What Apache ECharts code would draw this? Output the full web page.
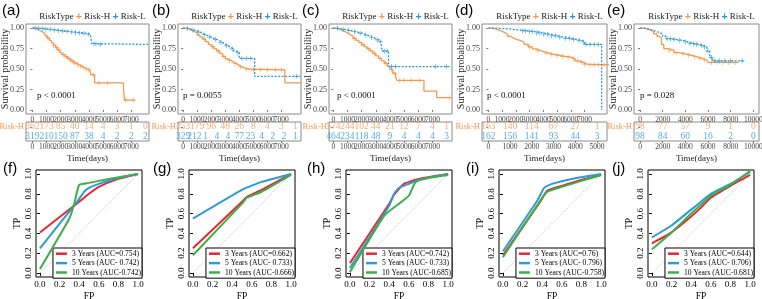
<!DOCTYPE html>
<html><head><meta charset="utf-8">
<script src="https://cdn.jsdelivr.net/npm/echarts@6/dist/echarts.min.js"></script>
<style>html,body{margin:0;padding:0;background:#fff}#c{width:762px;height:299px}</style>
</head><body><div id="c"></div>
<script>
// ---------------- tick labels ----------------
const ticks8000 = [0,1000,2000,3000,4000,5000,6000,7000,8000];
const ticks5000 = [0,1000,2000,3000,4000,5000];
const ticks10000 = [0,2000,4000,6000,8000,10000];
const survTicks = [0,0.25,0.5,0.75,1];
const rocTicks = [0,0.2,0.4,0.6,0.8,1];
const panelLabelsKM = ['(a)','(b)','(c)','(d)','(e)'];
const panelLabelsROC = ['(f)','(g)','(h)','(i)','(j)'];
const pValues = ['p < 0.0001','p = 0.0055','p < 0.0001','p < 0.0001','p = 0.028'];
const groups = ['Risk-H','Risk-L'];

// ---------------- KM curves [time, survival] ----------------
const kmA_H = [[0,1],[150,0.99],[300,0.98],[450,0.965],[600,0.95],[750,0.93],[900,0.905],[1050,0.88],[1200,0.85],[1350,0.82],[1500,0.79],[1650,0.76],[1800,0.73],[1950,0.7],[2100,0.675],[2300,0.65],[2500,0.625],[2700,0.6],[2900,0.575],[3100,0.555],[3300,0.535],[3500,0.515],[3700,0.5],[3900,0.49],[4050,0.475],[4150,0.43],[4400,0.33],[6450,0.25],[6520,0.12],[7250,0.12]];
const kmA_Hc = [[1100,0.88],[1500,0.79],[1700,0.76],[1900,0.73],[2200,0.675],[2400,0.65],[2600,0.625],[2800,0.6],[3000,0.575],[3200,0.555],[3400,0.535],[3600,0.515],[3800,0.5],[4000,0.49],[4300,0.43],[4700,0.33],[5300,0.33],[6600,0.12],[7150,0.12]];
const kmA_L = [[0,1],[300,0.997],[600,0.993],[900,0.988],[1200,0.982],[1500,0.976],[1800,0.97],[2100,0.964],[2400,0.958],[2700,0.952],[3000,0.946],[3300,0.94],[3600,0.933],[3900,0.925],[4100,0.905],[4200,0.81],[4600,0.8],[8250,0.8]];
const kmA_Lc = [[200,1],[450,0.997],[700,0.993],[950,0.988],[1250,0.982],[1550,0.976],[1850,0.97],[2150,0.964],[2450,0.958],[2750,0.952],[3050,0.946],[3350,0.94],[3650,0.933],[3950,0.925],[4350,0.81],[4500,0.81],[4800,0.8]];

const kmB_H = [[0,1],[200,0.99],[400,0.975],[600,0.96],[800,0.94],[1000,0.915],[1200,0.89],[1400,0.865],[1600,0.835],[1800,0.8],[2000,0.775],[2200,0.745],[2400,0.72],[2600,0.69],[2800,0.655],[3000,0.625],[3200,0.605],[3400,0.585],[3600,0.565],[3800,0.545],[4000,0.525],[4200,0.51],[4400,0.5],[4700,0.49],[7250,0.33],[8400,0.33]];
const kmB_Hc = [[1500,0.865],[2100,0.775],[2500,0.72],[2900,0.655],[3300,0.605],[3700,0.565],[4100,0.525],[4500,0.5],[5000,0.49],[5500,0.49],[6000,0.49],[6600,0.49],[7000,0.49]];
const kmB_L = [[0,1],[200,0.995],[400,0.985],[600,0.975],[800,0.965],[1000,0.95],[1200,0.935],[1400,0.92],[1600,0.905],[1800,0.89],[2000,0.875],[2200,0.86],[2400,0.845],[2600,0.825],[2800,0.805],[3000,0.785],[3200,0.765],[3400,0.745],[3600,0.72],[3800,0.7],[4000,0.63],[5100,0.41],[8350,0.41]];
const kmB_Lc = [[300,0.995],[700,0.975],[1100,0.95],[1500,0.92],[1900,0.89],[2300,0.86],[2700,0.825],[3100,0.785],[3500,0.745],[3900,0.7],[4200,0.63],[4500,0.63],[4800,0.63],[8100,0.41]];

const kmC_H = [[0,1],[200,0.99],[400,0.975],[600,0.96],[800,0.94],[1000,0.92],[1200,0.9],[1400,0.875],[1600,0.85],[1800,0.825],[2000,0.795],[2200,0.77],[2400,0.745],[2600,0.72],[2800,0.69],[3000,0.66],[3200,0.63],[3400,0.6],[3600,0.57],[3800,0.535],[4000,0.495],[4200,0.45],[4400,0.4],[4500,0.36],[6400,0.23],[7300,0.15],[8300,0.15]];
const kmC_Hc = [[1500,0.875],[2100,0.795],[2500,0.745],[2900,0.69],[3300,0.63],[3700,0.57],[4100,0.495],[4300,0.45],[4700,0.36],[5000,0.36],[5500,0.36],[6100,0.36],[8200,0.15]];
const kmC_L = [[0,1],[200,0.996],[400,0.99],[600,0.984],[800,0.977],[1000,0.97],[1200,0.963],[1400,0.955],[1600,0.947],[1800,0.938],[2000,0.928],[2200,0.915],[2400,0.9],[2600,0.885],[2800,0.87],[3000,0.855],[3200,0.835],[3350,0.815],[3450,0.72],[3900,0.53],[8300,0.53]];
const kmC_Lc = [[300,0.996],[700,0.984],[1100,0.97],[1500,0.955],[1900,0.938],[2300,0.915],[2700,0.885],[3100,0.855],[3300,0.835],[3600,0.72],[3800,0.72],[4100,0.53],[4400,0.53],[7200,0.53],[8000,0.53]];

const kmD_H = [[0,1],[200,0.995],[400,0.985],[600,0.975],[800,0.96],[1000,0.945],[1200,0.925],[1400,0.9],[1600,0.88],[1800,0.865],[2000,0.85],[2300,0.83],[2600,0.8],[2900,0.77],[3200,0.745],[3500,0.725],[3800,0.71],[4100,0.695],[4400,0.68],[4800,0.665],[5200,0.655],[5600,0.645],[6000,0.625],[6300,0.6],[6600,0.58],[6900,0.56],[7200,0.55],[8800,0.55]];
const kmD_Hc = [[3000,0.77],[3600,0.725],[4200,0.695],[4600,0.68],[5000,0.665],[5400,0.655],[5800,0.645],[6200,0.625],[6500,0.6],[6800,0.58],[7000,0.56],[7400,0.55],[7700,0.55],[8000,0.55],[8400,0.55],[8750,0.55]];
const kmD_L = [[0,1],[500,0.995],[1000,0.99],[1500,0.98],[2000,0.975],[2500,0.965],[3000,0.955],[3500,0.94],[4000,0.925],[4500,0.905],[5000,0.89],[5500,0.875],[6000,0.86],[6500,0.85],[6800,0.83],[7000,0.8],[8240,0]];
const kmD_Lc = [[2500,0.965],[2700,0.965],[3000,0.955],[3200,0.955],[3500,0.94],[3700,0.94],[4000,0.925],[4300,0.925],[4600,0.905],[4900,0.905],[5200,0.89],[5600,0.875],[5900,0.875],[6200,0.86],[6600,0.85],[6900,0.83],[7100,0.8],[7400,0.8],[7700,0.8],[8000,0.8]];

const kmE_H = [[0,1],[300,0.99],[600,0.975],[900,0.96],[1200,0.93],[1500,0.9],[1700,0.88],[1900,0.8],[2100,0.75],[2500,0.73],[3000,0.7],[3500,0.685],[4000,0.67],[4500,0.65],[5000,0.63],[5500,0.61],[5900,0.59],[6000,0.58],[8700,0.58]];
const kmE_Hc = [[2600,0.73],[3200,0.7],[3800,0.685],[4300,0.67],[4800,0.65],[5300,0.63],[5700,0.61],[6300,0.58],[6800,0.58],[7300,0.58],[7800,0.58],[8400,0.58]];
const kmE_L = [[0,1],[400,0.99],[800,0.97],[1200,0.95],[1600,0.93],[2000,0.9],[2300,0.87],[2800,0.86],[3300,0.85],[3800,0.83],[4300,0.81],[4800,0.8],[5300,0.785],[5600,0.77],[5900,0.72],[6150,0.64],[6400,0.6],[9200,0.6]];
const kmE_Lc = [[2400,0.87],[2700,0.87],[3000,0.86],[3500,0.85],[4000,0.83],[4400,0.81],[4700,0.81],[5000,0.8],[5400,0.785],[5700,0.77],[6000,0.72],[6300,0.64],[6600,0.6],[7000,0.6],[7500,0.6],[8000,0.6],[9000,0.6]];

// ---------------- numbers at risk ----------------
const riskA_T = [0,1000,2000,3000,4000,5000,6000,7000,8000];
const riskA_H = [362,173,85,40,14,4,3,1,0];
const riskA_L = [319,210,150,87,38,4,2,2,2];
const riskB_T = [0,1000,2000,3000,4000,5000,6000,7000,8000];
const riskB_H = [353,179,96,48,26,8,4,3,1];
const riskB_TL = [0,800,1600,2400,3200,4000,4800,5600,6400,7200,8000];
const riskB_L = [329,212,1,4,4,77,23,4,2,2,1];
const riskC_T = [0,1000,2000,3000,4000,5000,6000,7000,8000];
const riskC_H = [574,244,102,44,21,12,7,4,1];
const riskC_L = [464,234,118,48,9,4,4,4,3];
const riskD_T = [0,1000,2000,3000,4000,5000];
const riskD_H = [163,140,114,67,27,1];
const riskD_L = [162,156,141,93,44,3];
const riskE_T = [0,2000,4000,6000,8000,10000];
const riskE_H = [98,77,57,9,1,0];
const riskE_L = [98,84,60,16,2,0];

// ---------------- ROC curves [FP, TP] ----------------
const rocDiag = [[0,0],[1,1]];
const rocF_3 = [[0,0.41],[0.4,0.72],[0.5,0.8],[0.6,0.87],[0.8,0.95],[1,1]];
const rocF_5 = [[0,0.25],[0.38,0.72],[0.45,0.82],[0.5,0.86],[0.6,0.9],[0.8,0.96],[1,1]];
const rocF_10 = [[0,0.04],[0.3,0.55],[0.35,0.7],[0.4,0.89],[0.5,0.91],[0.7,0.95],[1,1]];
const rocG_3 = [[0,0.25],[0.5,0.72],[0.55,0.77],[0.7,0.84],[1,1]];
const rocG_5 = [[0,0.55],[0.5,0.84],[0.7,0.92],[1,1]];
const rocG_10 = [[0,0.18],[0.5,0.7],[0.55,0.76],[0.7,0.82],[1,0.99]];
const rocH_3 = [[0,0.1],[0.4,0.7],[0.45,0.79],[0.55,0.9],[0.7,0.95],[1,1]];
const rocH_5 = [[0,0.05],[0.4,0.68],[0.45,0.8],[0.5,0.86],[0.6,0.9],[0.7,0.94],[1,1]];
const rocH_10 = [[0,0.01],[0.35,0.58],[0.5,0.7],[0.6,0.78],[0.67,0.92],[0.8,0.96],[1,0.99]];
const rocI_3 = [[0,0.18],[0.38,0.72],[0.45,0.83],[0.6,0.88],[0.8,0.94],[1,0.99]];
const rocI_5 = [[0,0.22],[0.35,0.73],[0.42,0.86],[0.5,0.9],[0.7,0.95],[1,1]];
const rocI_10 = [[0,0.16],[0.38,0.73],[0.45,0.82],[0.6,0.87],[0.8,0.93],[1,0.99]];
const rocJ_3 = [[0,0.3],[0.2,0.41],[0.4,0.57],[0.5,0.66],[0.6,0.76],[0.8,0.88],[1,0.99]];
const rocJ_5 = [[0,0.36],[0.2,0.48],[0.4,0.64],[0.5,0.72],[0.6,0.8],[0.8,0.9],[1,1.02]];
const rocJ_10 = [[0,0.24],[0.2,0.41],[0.4,0.6],[0.5,0.69],[0.6,0.78],[0.8,0.89],[1,1.03]];
const rocNamesF = ['3 Years (AUC=0.754)','5 Years (AUC- 0.742)','10 Years (AUC-0.742)'];
const rocNamesG = ['3 Years (AUC=0.662)','5 Years (AUC- 0.733)','10 Years (AUC-0.666)'];
const rocNamesH = ['3 Years (AUC=0.742)','5 Years (AUC- 0.733)','10 Years (AUC-0.685)'];
const rocNamesI = ['3 Years (AUC=0.76)','5 Years (AUC- 0.796)','10 Years (AUC-0.758)'];
const rocNamesJ = ['3 Years (AUC=0.644)','5 Years (AUC- 0.706)','10 Years (AUC-0.681)'];

// ---------------- assemble ----------------
const SERIF = "'Liberation Serif','Times New Roman',serif";
const SANS = "'Liberation Sans',Arial,sans-serif";
const ORANGE = '#F4994F', BLUE = '#2A9AD6';
const RED = '#E8282E', RBLUE = '#2F9AD6', GREEN = '#3BAF4A';
const PLUS = 'path://M0,4.3H10V5.7H0ZM4.3,0H5.7V10H4.3Z';

const kmPanels = [
  {H:kmA_H,Hc:kmA_Hc,L:kmA_L,Lc:kmA_Lc,rT:riskA_T,rH:riskA_H,rTL:riskA_T,rL:riskA_L},
  {H:kmB_H,Hc:kmB_Hc,L:kmB_L,Lc:kmB_Lc,rT:riskB_T,rH:riskB_H,rTL:riskB_TL,rL:riskB_L},
  {H:kmC_H,Hc:kmC_Hc,L:kmC_L,Lc:kmC_Lc,rT:riskC_T,rH:riskC_H,rTL:riskC_T,rL:riskC_L},
  {H:kmD_H,Hc:kmD_Hc,L:kmD_L,Lc:kmD_Lc,rT:riskD_T,rH:riskD_H,rTL:riskD_T,rL:riskD_L},
  {H:kmE_H,Hc:kmE_Hc,L:kmE_L,Lc:kmE_Lc,rT:riskE_T,rH:riskE_H,rTL:riskE_T,rL:riskE_L}
];
const kmLayout = [
  {lx:2,   left:26,  width:123, xmin:-450, xmax:8250,  ticks:ticks8000,  tmin:-450, tmax:8250,  tticks:ticks8000,  px:11},
  {lx:152, left:178, width:123, xmin:-360, xmax:8400,  ticks:ticks8000,  tmin:-360, tmax:8400,  tticks:ticks8000,  px:5},
  {lx:302, left:329, width:123, xmin:-300, xmax:8380,  ticks:ticks8000,  tmin:-300, tmax:8380,  tticks:ticks8000,  px:8},
  {lx:455, left:482, width:125, xmin:-460, xmax:8630,  ticks:ticks8000,  tmin:-290, tmax:5460,  tticks:ticks5000,  px:5},
  {lx:607, left:634, width:125, xmin:-530, xmax:10500, ticks:ticks10000, tmin:-530, tmax:10500, tticks:ticks10000, px:6}
];
const rocPanels = [
  {c:[rocF_3,rocF_5,rocF_10], n:rocNamesF},
  {c:[rocG_3,rocG_5,rocG_10], n:rocNamesG},
  {c:[rocH_3,rocH_5,rocH_10], n:rocNamesH},
  {c:[rocI_3,rocI_5,rocI_10], n:rocNamesI},
  {c:[rocJ_3,rocJ_5,rocJ_10], n:rocNamesJ}
];
const rocLayout = [{lx:3,left:36},{lx:153,left:189},{lx:307,left:346},{lx:466,left:499},{lx:612,left:648}];

const grids=[], xAxes=[], yAxes=[], series=[], legends=[], graphics=[];
function txt(size,color){return {fontSize:size,fontFamily:SERIF,color:color};}
const plain = v => String(Math.round(v));

kmPanels.forEach((p,i)=>{
  const Lo = kmLayout[i];
  // plot
  let gi = grids.length;
  grids.push({left:Lo.left, top:24, width:Lo.width, height:90, show:true, borderColor:'#8a8a8a', borderWidth:1, backgroundColor:'#fff', outerBoundsMode:'none', containLabel:false});
  xAxes.push({gridIndex:gi, type:'value', min:Lo.xmin, max:Lo.xmax, axisLine:{show:false}, splitLine:{show:false},
    axisTick:{show:true, customValues:Lo.ticks, length:2, lineStyle:{color:'#777'}},
    axisLabel:Object.assign({customValues:Lo.ticks, margin:2, hideOverlap:false, formatter:plain}, txt(7.5,'#444'))});
  yAxes.push({gridIndex:gi, type:'value', min:-0.05, max:1.05, axisLine:{show:false}, splitLine:{show:false},
    axisTick:{show:true, customValues:survTicks, length:2, lineStyle:{color:'#777'}},
    axisLabel:Object.assign({customValues:survTicks, margin:2, formatter:v=>Number(v).toFixed(2)}, txt(8,'#444'))});
  series.push({type:'line', name:'Risk-H', xAxisIndex:gi, yAxisIndex:gi, data:p.H, step:'end', symbol:'none', lineStyle:{color:ORANGE,width:1.3}, z:3});
  series.push({type:'line', name:'Risk-L', xAxisIndex:gi, yAxisIndex:gi, data:p.L, step:'end', symbol:'none', lineStyle:{color:BLUE,width:1.3,type:[2,1.5]}, z:3});
  series.push({type:'scatter', xAxisIndex:gi, yAxisIndex:gi, data:p.Hc, symbol:PLUS, symbolSize:5, itemStyle:{color:ORANGE}, z:4});
  series.push({type:'scatter', xAxisIndex:gi, yAxisIndex:gi, data:p.Lc, symbol:PLUS, symbolSize:5, itemStyle:{color:BLUE}, z:4});
  // risk table
  gi = grids.length;
  grids.push({left:Lo.left, top:122, width:Lo.width, height:19, show:true, borderColor:'#8a8a8a', borderWidth:1, backgroundColor:'#fff', outerBoundsMode:'none', containLabel:false});
  xAxes.push({gridIndex:gi, type:'value', min:Lo.tmin, max:Lo.tmax, name:'Time(days)', nameLocation:'middle', nameGap:13, nameTextStyle:txt(9,'#222'),
    axisLine:{show:false}, splitLine:{show:false},
    axisTick:{show:true, customValues:Lo.tticks, length:2, lineStyle:{color:'#777'}},
    axisLabel:Object.assign({customValues:Lo.tticks, margin:2, hideOverlap:false, formatter:plain}, txt(7.5,'#444'))});
  yAxes.push({gridIndex:gi, type:'category', data:groups, inverse:true, axisLine:{show:false}, splitLine:{show:false},
    axisTick:{show:true, length:2, alignWithLabel:true, lineStyle:{color:'#777'}},
    axisLabel:{margin:2, fontSize:8.5, fontFamily:SERIF, color:(v)=> v==='Risk-H'?ORANGE:BLUE}});
  const lab = (c)=>({show:true, position:'inside', formatter:q=>q.value[2], color:c, fontSize:9.5, fontFamily:SERIF});
  series.push({type:'scatter', xAxisIndex:gi, yAxisIndex:gi, symbolSize:0.01, itemStyle:{color:'rgba(0,0,0,0)'},
    data:p.rH.map((n,k)=>[p.rT[k],'Risk-H',n]), label:lab(ORANGE)});
  series.push({type:'scatter', xAxisIndex:gi, yAxisIndex:gi, symbolSize:0.01, itemStyle:{color:'rgba(0,0,0,0)'},
    data:p.rL.map((n,k)=>[p.rTL[k],'Risk-L',n]), label:lab(BLUE)});
  // panel label, legend text, y title, p-value
  graphics.push({type:'text', x:Lo.lx, y:3, style:{text:panelLabelsKM[i], font:'15px '+SANS, fill:'#000'}});
  graphics.push({type:'text', x:Lo.left+Lo.width/2+5, y:17, style:{text:'RiskType {o|+} Risk-H {b|+} Risk-L',
    fontFamily:SERIF, fontSize:9, fill:'#222', align:'center', verticalAlign:'middle',
    rich:{o:{fill:ORANGE,fontSize:10.5,fontWeight:'bold',fontFamily:SANS}, b:{fill:BLUE,fontSize:10.5,fontWeight:'bold',fontFamily:SANS}}}});
  graphics.push({type:'text', x:Lo.left-20.5, y:69, rotation:Math.PI/2, style:{text:'Survival probability',
    fontFamily:SERIF, fontSize:10, fill:'#222', align:'center', verticalAlign:'middle'}});
  graphics.push({type:'text', x:Lo.left+Lo.px, y:96, style:{text:pValues[i], fontFamily:SERIF, fontSize:9, fill:'#111', verticalAlign:'middle'}});
});

rocPanels.forEach((p,i)=>{
  const Lo = rocLayout[i];
  const gi = grids.length;
  grids.push({left:Lo.left, top:170, width:106, height:107, show:true, borderColor:'#000', borderWidth:1, backgroundColor:'#fff', outerBoundsMode:'none', containLabel:false});
  xAxes.push({gridIndex:gi, type:'value', min:-0.04, max:1.04, name:'FP', nameLocation:'middle', nameGap:14, nameTextStyle:txt(9.5,'#000'),
    axisLine:{show:false}, splitLine:{show:false},
    axisTick:{show:true, customValues:rocTicks, length:3, lineStyle:{color:'#000'}},
    axisLabel:Object.assign({customValues:rocTicks, margin:3, formatter:v=>Number(v).toFixed(1), hideOverlap:false}, txt(9,'#000'))});
  yAxes.push({gridIndex:gi, type:'value', min:-0.04, max:1.04, name:'TP', nameLocation:'middle', nameGap:14, nameTextStyle:txt(9.5,'#000'),
    axisLine:{show:false}, splitLine:{show:false},
    axisTick:{show:true, customValues:rocTicks, length:3, lineStyle:{color:'#000'}},
    axisLabel:Object.assign({customValues:rocTicks, margin:3, rotate:90, formatter:v=>Number(v).toFixed(1)}, txt(9,'#000'))});
  series.push({type:'line', xAxisIndex:gi, yAxisIndex:gi, data:rocDiag, symbol:'none', lineStyle:{color:'#c8c8c8',width:1,type:[1.5,1.5]}, z:2, silent:true});
  const cols=[RED,RBLUE,GREEN];
  p.c.forEach((d,k)=>{
    series.push({type:'line', name:p.n[k], xAxisIndex:gi, yAxisIndex:gi, data:d, symbol:'none', smooth:0.15, color:cols[k], lineStyle:{color:cols[k],width:2}, z:3+k});
  });
  legends.push({right:762-(Lo.left+106), top:248, orient:'vertical', data:p.n, icon:'rect', itemWidth:11, itemHeight:2.5, itemGap:0,
    padding:[1,1,1,3], borderColor:'#000', borderWidth:1, borderRadius:0, backgroundColor:'#fff', selectedMode:false,
    textStyle:{fontSize:7.6, fontFamily:SERIF, color:'#000', lineHeight:9.4}});
  graphics.push({type:'text', x:Lo.lx, y:161, style:{text:panelLabelsROC[i], font:'15px '+SANS, fill:'#000'}});
});

const chart = echarts.init(document.getElementById('c'), null, {renderer:'canvas'});
chart.setOption({animation:false, backgroundColor:'#fff', grid:grids, xAxis:xAxes, yAxis:yAxes, series:series, legend:legends, graphic:graphics});
</script></body></html>
